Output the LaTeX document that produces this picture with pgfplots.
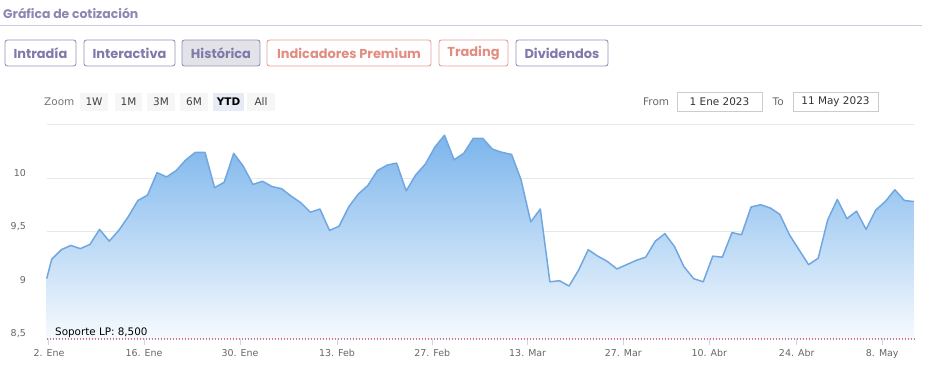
\documentclass[border=0pt]{standalone}
\usepackage{fontspec}
\setmainfont{DejaVu Sans}
\newfontfamily\pop{Poppins}
\usepackage{pgfplots}
\pgfplotsset{compat=1.18}
\usepackage{pgfplotstable}
\definecolor{titlecol}{RGB}{140,134,178}
\definecolor{tabcol}{RGB}{128,121,170}
\definecolor{tabborder}{RGB}{150,145,182}
\definecolor{salmon}{RGB}{226,140,130}
\definecolor{salmonb}{RGB}{226,160,152}
\definecolor{sepcol}{RGB}{205,200,226}
\definecolor{histfill}{RGB}{226,226,233}
\definecolor{btnfill}{RGB}{246,246,246}
\definecolor{ytdfill}{RGB}{230,235,245}
\definecolor{gridcol}{RGB}{232,232,232}
\definecolor{labcol}{RGB}{102,102,102}
\definecolor{linecol}{RGB}{112,167,224}
\definecolor{filltop}{RGB}{124,181,236}
\definecolor{fillbot}{RGB}{246,250,254}
\definecolor{supcol}{RGB}{205,115,145}
\definecolor{tickcol}{RGB}{204,214,235}
\definecolor{boxcol}{RGB}{204,204,204}

\pgfplotstableread{
k v
-0.52 9.06
0 9.24
1 9.33
2 9.37
3 9.34
4 9.38
5 9.52
6 9.41
7 9.51
8 9.64
9 9.79
10 9.84
11 10.05
12 10.01
13 10.07
14 10.17
15 10.24
16 10.24
17 9.91
18 9.96
19 10.23
20 10.11
21 9.94
22 9.97
23 9.92
24 9.90
25 9.83
26 9.77
27 9.68
28 9.71
29 9.51
30 9.55
31 9.73
32 9.85
33 9.93
34 10.07
35 10.12
36 10.14
37 9.88
38 10.03
39 10.13
40 10.29
41 10.40
42 10.17
43 10.23
44 10.37
45 10.37
46 10.27
47 10.24
48 10.22
49 9.98
50 9.59
51 9.71
52 9.03
53 9.04
54 8.99
55 9.14
56 9.33
57 9.27
58 9.22
59 9.15
60 9.19
61 9.23
62 9.26
63 9.41
64 9.48
65 9.36
66 9.17
67 9.06
68 9.03
69 9.27
70 9.26
71 9.49
72 9.47
73 9.73
74 9.75
75 9.72
76 9.66
77 9.47
78 9.33
79 9.19
80 9.25
81 9.61
82 9.80
83 9.62
84 9.69
85 9.52
86 9.70
87 9.78
88 9.89
89 9.79
90 9.78
}\price

% the same series closed down to the 8.5 floor, for the shaded area
\pgfplotstableread{
k v
-0.52 8.5
-0.52 9.06
0 9.24
1 9.33
2 9.37
3 9.34
4 9.38
5 9.52
6 9.41
7 9.51
8 9.64
9 9.79
10 9.84
11 10.05
12 10.01
13 10.07
14 10.17
15 10.24
16 10.24
17 9.91
18 9.96
19 10.23
20 10.11
21 9.94
22 9.97
23 9.92
24 9.90
25 9.83
26 9.77
27 9.68
28 9.71
29 9.51
30 9.55
31 9.73
32 9.85
33 9.93
34 10.07
35 10.12
36 10.14
37 9.88
38 10.03
39 10.13
40 10.29
41 10.40
42 10.17
43 10.23
44 10.37
45 10.37
46 10.27
47 10.24
48 10.22
49 9.98
50 9.59
51 9.71
52 9.03
53 9.04
54 8.99
55 9.14
56 9.33
57 9.27
58 9.22
59 9.15
60 9.19
61 9.23
62 9.26
63 9.41
64 9.48
65 9.36
66 9.17
67 9.06
68 9.03
69 9.27
70 9.26
71 9.49
72 9.47
73 9.73
74 9.75
75 9.72
76 9.66
77 9.47
78 9.33
79 9.19
80 9.25
81 9.61
82 9.80
83 9.62
84 9.69
85 9.52
86 9.70
87 9.78
88 9.89
89 9.79
90 9.78
90 8.5
}\pricearea

% tab: x1, x2, text, border colour, text colour, fill
\newcommand\tab[6]{%
  \draw[draw=#4, line width=0.9bp, fill=#6, rounded corners=2.5bp] (#1,-40) rectangle (#2,-66);
  \node[text=#5, inner sep=0, font=\pop\bfseries\fontsize{13}{15}\selectfont] at ({(#1+#2)/2},-53.5) {#3};}
% zoom button: x1, x2, text, fill
\newcommand\zbtn[4]{%
  \fill[#4] (#1,-93) rectangle (#2,-111);
  \node[inner sep=0, font=\fontsize{10.5}{12}\selectfont, text=black!75] at ({(#1+#2)/2},-102) {#3};}

\begin{document}
\begin{tikzpicture}[x=1bp,y=1bp]
\path[use as bounding box] (0,0) rectangle (925,-371);
% header
\node[anchor=base west, inner sep=0, text=titlecol, font=\pop\bfseries\fontsize{12.5}{14}\selectfont] at (3,-18) {Gráfica de cotización};
\draw[sepcol, line width=1bp] (0,-25.5) -- (922,-25.5);
\tab{5}{76}{Intradía}{tabborder}{tabcol}{white}
\tab{84}{175}{Interactiva}{tabborder}{tabcol}{white}
\tab{182}{260}{Histórica}{tabborder}{tabcol}{histfill}
\tab{267}{431}{Indicadores Premium}{salmonb}{salmon}{white}
\tab{439}{508}{Trading}{salmonb}{salmon}{white}
\tab{516}{608}{Dividendos}{tabborder}{tabcol}{white}
% zoom row
\node[anchor=west, inner sep=0, font=\fontsize{10.5}{12}\selectfont, text=labcol!90] at (44,-102) {Zoom};
\zbtn{80}{108}{1W}{btnfill}
\zbtn{115}{142}{1M}{btnfill}
\zbtn{147}{175}{3M}{btnfill}
\zbtn{180}{208}{6M}{btnfill}
\fill[ytdfill] (213,-93) rectangle (244,-111);
\node[inner sep=0, font=\bfseries\fontsize{10.5}{12}\selectfont] at (228.5,-102) {YTD};
\zbtn{247}{275}{All}{btnfill}
% from / to
\node[anchor=west, inner sep=0, font=\fontsize{10.5}{12}\selectfont, text=labcol] at (643,-102) {From};
\draw[boxcol, line width=0.8bp, fill=white] (677,-92) rectangle (762,-111.5);
\node[inner sep=0, font=\fontsize{10.5}{12}\selectfont, text=black!80] at (719.5,-102) {1 Ene 2023};
\node[anchor=west, inner sep=0, font=\fontsize{10.5}{12}\selectfont, text=labcol] at (772.5,-102) {To};
\draw[boxcol, line width=0.8bp, fill=white] (793,-92) rectangle (878,-111.5);
\node[inner sep=0, font=\fontsize{10.5}{12}\selectfont, text=black!80] at (835.5,-102) {11 May 2023};

\begin{axis}[
  x=9.581bp, y=107bp,
  at={(46.7bp,-338.5bp)}, anchor=south west,
  xmin=-0.52, xmax=90, ymin=8.5, ymax=10.5,
  clip=false,
  axis x line*=bottom, axis y line*=left,
  axis line style={draw=none},
  ytick={8.5,9,9.5,10}, yticklabels={{8,5},{9},{9,5},{10}},
  extra y ticks={10.5}, extra y tick labels={},
  ymajorgrids, extra y tick style={grid=major},
  grid style={gridcol, line width=1bp},
  ytick style={draw=none},
  xtick={-0.28,9.64,19.66,29.78,39.73,49.68,59.66,68.64,77.76,86.69},
  xticklabels={2. Ene,16. Ene,30. Ene,13. Feb,27. Feb,13. Mar,27. Mar,10. Abr,24. Abr,8. May},
  tick align=outside, major tick length=6bp,
  xtick style={draw=tickcol, line width=1bp},
  ticklabel style={font=\fontsize{9.5}{11}\selectfont, text=labcol},
  yticklabel style={anchor=east, inner sep=0pt, xshift=-14.7bp, yshift=5bp},
  xticklabel style={anchor=north, inner sep=0pt, yshift=-4.5bp},
]
\addplot[draw=none, top color=filltop, bottom color=fillbot] table[x=k,y=v]{\pricearea};
\addplot[linecol, line width=1.5bp, line join=round] table[x=k,y=v]{\price};
\draw[supcol, line width=2bp, dash pattern=on 1.6bp off 1.4bp] (axis cs:-0.52,8.5) -- (axis cs:90,8.5);
\node[anchor=base west, inner sep=0, font=\fontsize{10.4}{12}\selectfont, text=black] at (axis cs:0.35,8.5) [yshift=3bp] {Soporte LP: 8,500};
\end{axis}
\end{tikzpicture}
\end{document}
